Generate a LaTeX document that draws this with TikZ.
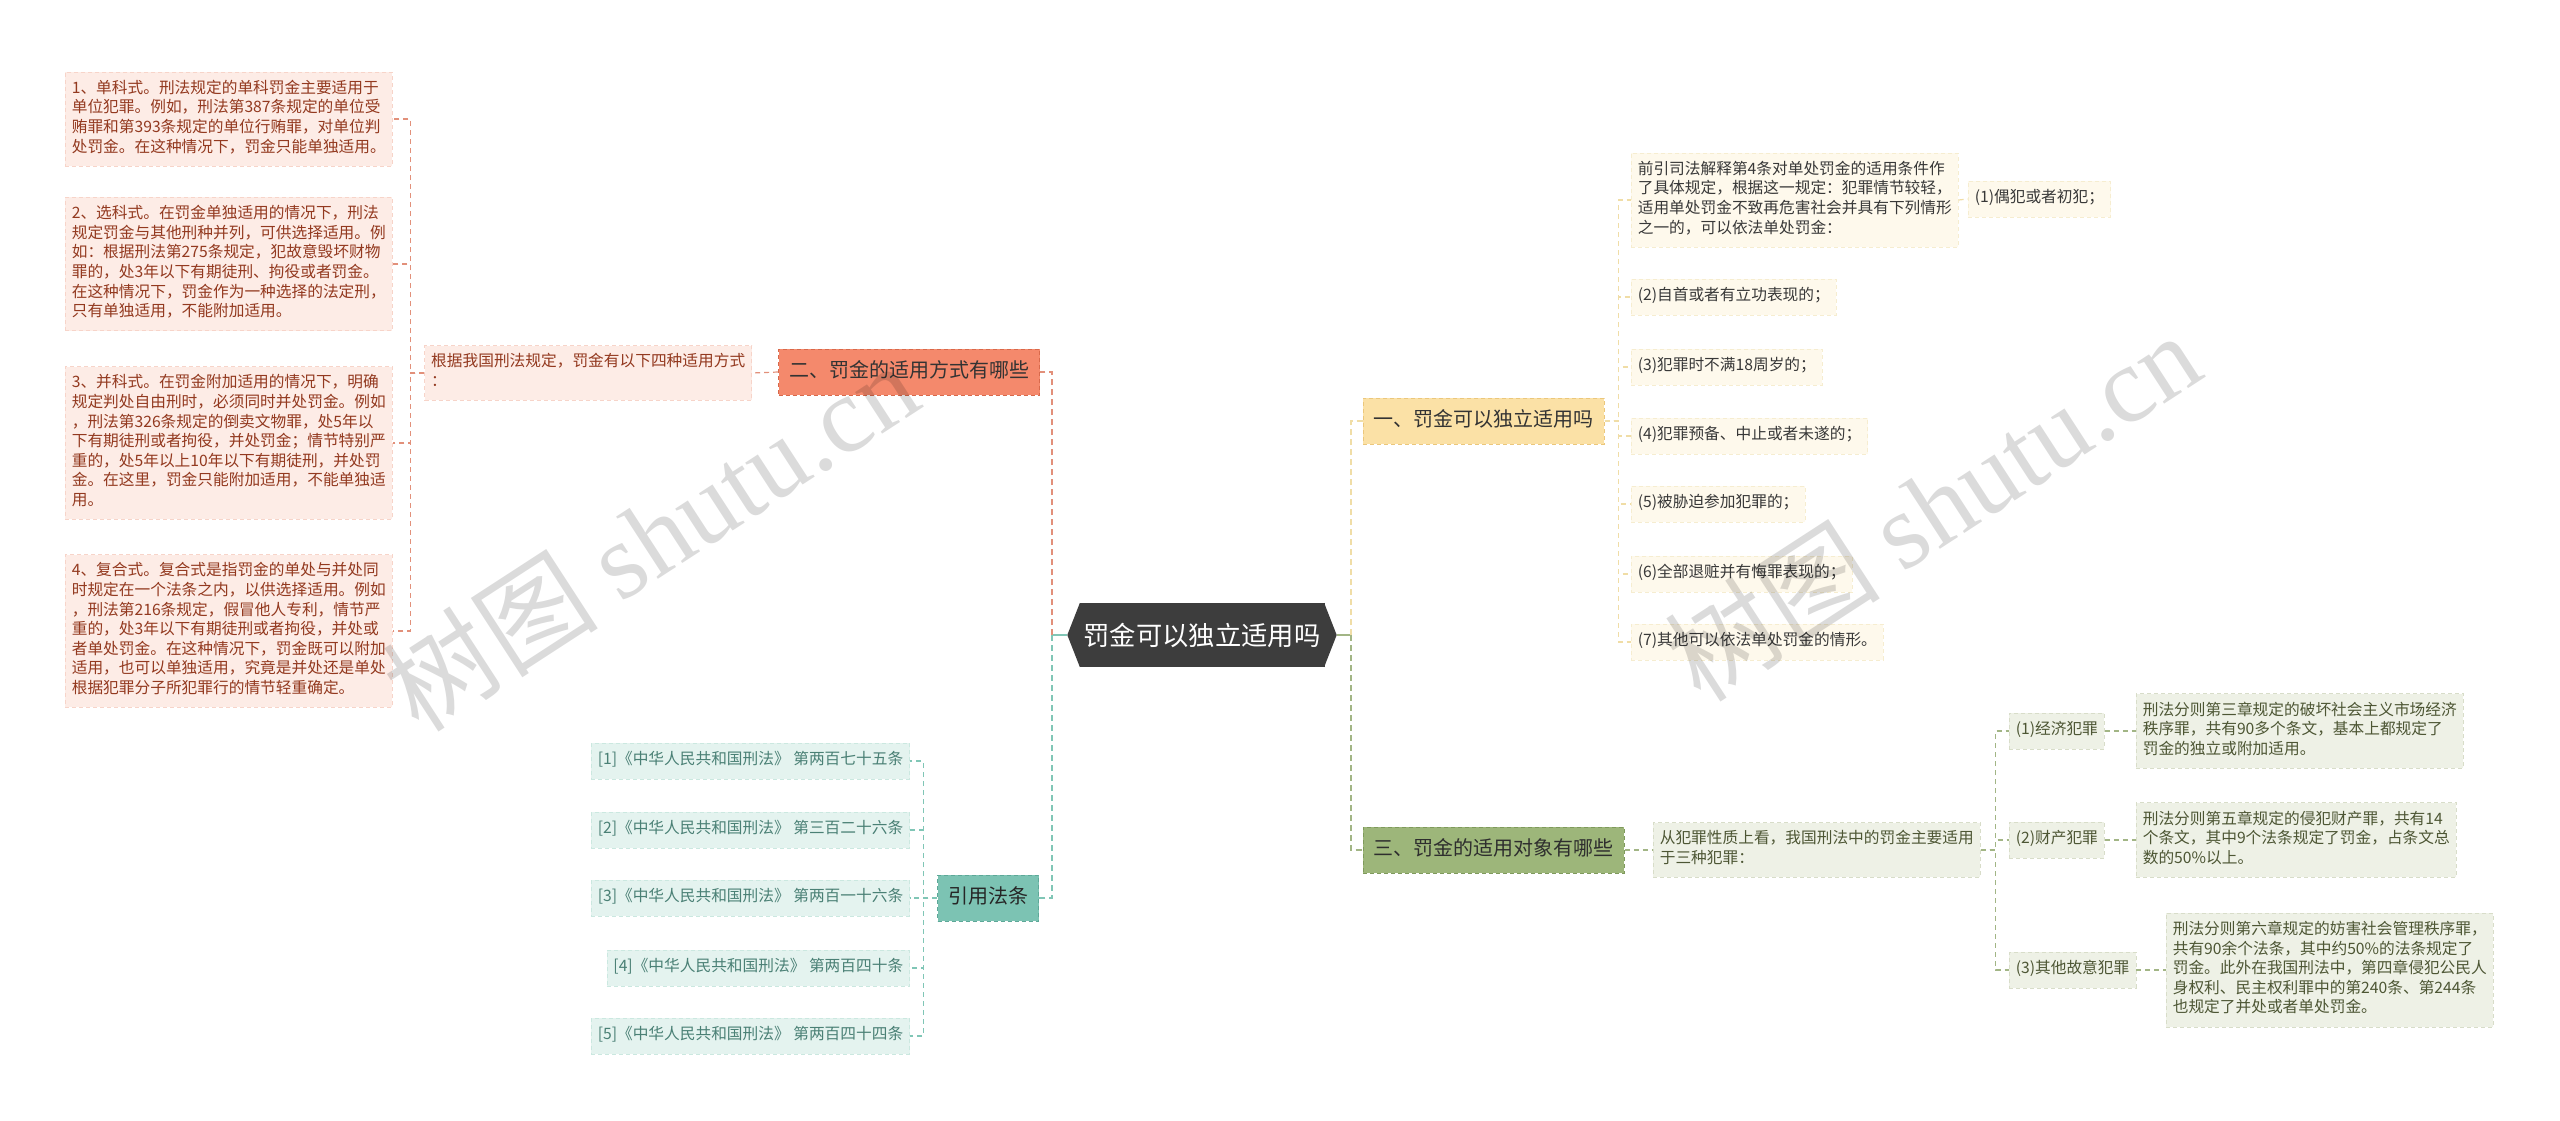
\documentclass[tikz,border=0pt]{standalone}
\usepackage{fontspec}
\setmainfont{Noto Sans CJK SC}
\newfontfamily\wmlatin{Liberation Serif}
\definecolor{pinkfill}{HTML}{FDECE6}
\definecolor{pinkborder}{HTML}{F7D4C9}
\definecolor{pinktext}{HTML}{93391F}
\definecolor{orangefill}{HTML}{F4896C}
\definecolor{orangeborder}{HTML}{D8694B}
\definecolor{orangeline}{HTML}{E2907A}
\definecolor{hexfill}{HTML}{3D3D3D}
\definecolor{yelfill}{HTML}{FBE1A6}
\definecolor{yelborder}{HTML}{EBC77C}
\definecolor{yelleaf}{HTML}{FEF9EC}
\definecolor{yelleafborder}{HTML}{F6EDD0}
\definecolor{yelline}{HTML}{F0DDA6}
\definecolor{grnfill}{HTML}{9DB67A}
\definecolor{grnborder}{HTML}{7F9A5C}
\definecolor{grnleaf}{HTML}{EEF1E6}
\definecolor{grnleafborder}{HTML}{D8DDC9}
\definecolor{grntext}{HTML}{4D5634}
\definecolor{grnline}{HTML}{A2B585}
\definecolor{tealfill}{HTML}{7CC3B3}
\definecolor{tealborder}{HTML}{5DA898}
\definecolor{tealleaf}{HTML}{E4F3EF}
\definecolor{tealleafborder}{HTML}{CBE8E0}
\definecolor{tealtext}{HTML}{4A8075}
\definecolor{tealline}{HTML}{80C6B6}
\tikzset{
  leafbase/.style={font=\fontsize{15.7}{19.6}\selectfont, inner xsep=6.5pt, inner ysep=8pt,
    align=left, execute at begin node=\strut, execute at end node=\strut,
    dash pattern=on 4pt off 3pt, line width=0.6pt},
  pinkleaf/.style={leafbase, fill=pinkfill, draw=pinkborder, text=pinktext},
  yelleafst/.style={leafbase, fill=yelleaf, draw=yelleafborder, text=black!78},
  grnleafst/.style={leafbase, fill=grnleaf, draw=grnleafborder, text=grntext},
  tealleafst/.style={leafbase, fill=tealleaf, draw=tealleafborder, text=tealtext},
  branch/.style={font=\fontsize{20}{25}\selectfont, inner sep=10.5pt,
    execute at begin node=\strut, dash pattern=on 4pt off 3pt, line width=0.8pt},
  mainln/.style={line width=1.8pt, dash pattern=on 6pt off 4pt},
  leafln/.style={line width=1.2pt, dash pattern=on 5pt off 4pt},
  wm/.style={text=black, text opacity=0.14, rotate=33, font=\fontsize{108}{112}\selectfont}
}
\begin{document}
\begin{tikzpicture}[x=1pt,y=-1pt]
\useasboundingbox (0,0) rectangle (2560,1121);
\fill[white] (0,0) rectangle (2560,1121);

% centre
\node[fill=hexfill, text=white, minimum width=245, minimum height=64, inner sep=0pt,
  font=\fontsize{26.3}{30}\selectfont] (c) at (1202,635) {罚金可以独立适用吗};
\fill[hexfill] ([xshift=0.6pt]c.north west) -- ([xshift=-12pt]c.west) -- ([xshift=0.6pt]c.south west) -- cycle;
\fill[hexfill] ([xshift=-0.6pt]c.north east) -- ([xshift=12pt]c.east) -- ([xshift=-0.6pt]c.south east) -- cycle;
\coordinate (cl) at ([xshift=-12pt]c.west);
\coordinate (cr) at ([xshift=12pt]c.east);

% branches
\node[branch, fill=orangefill, draw=orangeborder, text=black!80, anchor=east] (b2) at (1040,372) {二、罚金的适用方式有哪些};
\node[branch, fill=yelfill, draw=yelborder, text=black!80, anchor=west] (b1) at (1363,421) {一、罚金可以独立适用吗};
\node[branch, fill=grnfill, draw=grnborder, text=black!82, anchor=west] (b3) at (1363,850) {三、罚金的适用对象有哪些};
\node[branch, fill=tealfill, draw=tealborder, text=black!85, anchor=east] (b4) at (1039,898) {引用法条};

% left pink
\node[pinkleaf, anchor=east] (gj) at (752,373) {根据我国刑法规定，罚金有以下四种适用方式\\：};
\node[pinkleaf, anchor=west] (p1) at (65,119) {1、单科式。刑法规定的单科罚金主要适用于\\单位犯罪。例如，刑法第387条规定的单位受\\贿罪和第393条规定的单位行贿罪，对单位判\\处罚金。在这种情况下，罚金只能单独适用。};
\node[pinkleaf, anchor=west] (p2) at (65,264) {2、选科式。在罚金单独适用的情况下，刑法\\规定罚金与其他刑种并列，可供选择适用。例\\如：根据刑法第275条规定，犯故意毁坏财物\\罪的，处3年以下有期徒刑、拘役或者罚金。\\在这种情况下，罚金作为一种选择的法定刑，\\只有单独适用，不能附加适用。};
\node[pinkleaf, anchor=west] (p3) at (65,443) {3、并科式。在罚金附加适用的情况下，明确\\规定判处自由刑时，必须同时并处罚金。例如\\，刑法第326条规定的倒卖文物罪，处5年以\\下有期徒刑或者拘役，并处罚金；情节特别严\\重的，处5年以上10年以下有期徒刑，并处罚\\金。在这里，罚金只能附加适用，不能单独适\\用。};
\node[pinkleaf, anchor=west] (p4) at (65,631) {4、复合式。复合式是指罚金的单处与并处同\\时规定在一个法条之内，以供选择适用。例如\\，刑法第216条规定，假冒他人专利，情节严\\重的，处3年以下有期徒刑或者拘役，并处或\\者单处罚金。在这种情况下，罚金既可以附加\\适用，也可以单独适用，究竟是并处还是单处\\根据犯罪分子所犯罪行的情节轻重确定。};

% right yellow
\node[yelleafst, anchor=west] (y1) at (1631,200) {前引司法解释第4条对单处罚金的适用条件作\\了具体规定，根据这一规定：犯罪情节较轻，\\适用单处罚金不致再危害社会并具有下列情形\\之一的，可以依法单处罚金：};
\node[yelleafst, anchor=west] (yy) at (1968,199) {(1)偶犯或者初犯；};
\node[yelleafst, anchor=west] (y2) at (1631,297) {(2)自首或者有立功表现的；};
\node[yelleafst, anchor=west] (y3) at (1631,367) {(3)犯罪时不满18周岁的；};
\node[yelleafst, anchor=west] (y4) at (1631,436) {(4)犯罪预备、中止或者未遂的；};
\node[yelleafst, anchor=west] (y5) at (1631,504) {(5)被胁迫参加犯罪的；};
\node[yelleafst, anchor=west] (y6) at (1631,574) {(6)全部退赃并有悔罪表现的；};
\node[yelleafst, anchor=west] (y7) at (1631,642) {(7)其他可以依法单处罚金的情形。};

% right green
\node[grnleafst, anchor=west] (gs) at (1653,850) {从犯罪性质上看，我国刑法中的罚金主要适用\\于三种犯罪：};
\node[grnleafst, anchor=west] (g1) at (2009,731) {(1)经济犯罪};
\node[grnleafst, anchor=west] (g2) at (2009,840) {(2)财产犯罪};
\node[grnleafst, anchor=west] (g3) at (2009,970) {(3)其他故意犯罪};
\node[grnleafst, anchor=west] (l1) at (2136,731) {刑法分则第三章规定的破坏社会主义市场经济\\秩序罪，共有90多个条文，基本上都规定了\\罚金的独立或附加适用。};
\node[grnleafst, anchor=west] (l2) at (2136,840) {刑法分则第五章规定的侵犯财产罪，共有14\\个条文，其中9个法条规定了罚金，占条文总\\数的50\%以上。};
\node[grnleafst, anchor=west] (l3) at (2166,970) {刑法分则第六章规定的妨害社会管理秩序罪，\\共有90余个法条，其中约50\%的法条规定了\\罚金。此外在我国刑法中，第四章侵犯公民人\\身权利、民主权利罪中的第240条、第244条\\也规定了并处或者单处罚金。};

% teal refs
\node[tealleafst, anchor=east] (r1) at (910,761) {[1]《中华人民共和国刑法》 第两百七十五条};
\node[tealleafst, anchor=east] (r2) at (910,830) {[2]《中华人民共和国刑法》 第三百二十六条};
\node[tealleafst, anchor=east] (r3) at (910,898) {[3]《中华人民共和国刑法》 第两百一十六条};
\node[tealleafst, anchor=east] (r4) at (910,968) {[4]《中华人民共和国刑法》 第两百四十条};
\node[tealleafst, anchor=east] (r5) at (910,1036) {[5]《中华人民共和国刑法》 第两百四十四条};

% connectors centre
\draw[tealline, line width=1.8pt] (cl) -- ([xshift=-15pt]cl);
\draw[orangeline, mainln] ([xshift=-15pt]cl) |- (b2.east);
\draw[tealline, mainln] ([xshift=-15pt]cl) |- (b4.east);
\draw[grnline, line width=1.8pt] (cr) -- ([xshift=14pt]cr);
\draw[yelline, mainln] ([xshift=14pt]cr) |- (b1.west);
\draw[grnline, mainln] ([xshift=14pt]cr) |- (b3.west);

% left
\draw[orangeline, leafln] (b2.west) -- (gj.east);
\foreach \n in {p1,p2,p3,p4} \draw[orangeline, leafln] (gj.west) -- ++(-14,0) |- (\n.east);
% right yellow
\foreach \n in {y1,y2,y3,y4,y5,y6,y7} \draw[yelline, leafln] (b1.east) -- ++(14,0) |- (\n.west);
\draw[yelline, leafln] (y1.east) -- (yy.west);
% right green
\draw[grnline, leafln] (b3.east) -- (gs.west);
\foreach \n in {g1,g2,g3} \draw[grnline, leafln] (gs.east) -- ++(15,0) |- (\n.west);
\draw[grnline, leafln] (g1.east) -- (l1.west);
\draw[grnline, leafln] (g2.east) -- (l2.west);
\draw[grnline, leafln] (g3.east) -- (l3.west);
% teal
\foreach \n in {r1,r2,r3,r4,r5} \draw[tealline, leafln] (b4.west) -- ++(-14,0) |- (\n.east);

% watermarks
\node[wm] (wm1) at (650,536) {树图 {\wmlatin shutu.cn}};
\node[wm] (wm2) at (1932,506) {树图 {\wmlatin shutu.cn}};
\end{tikzpicture}
\end{document}
